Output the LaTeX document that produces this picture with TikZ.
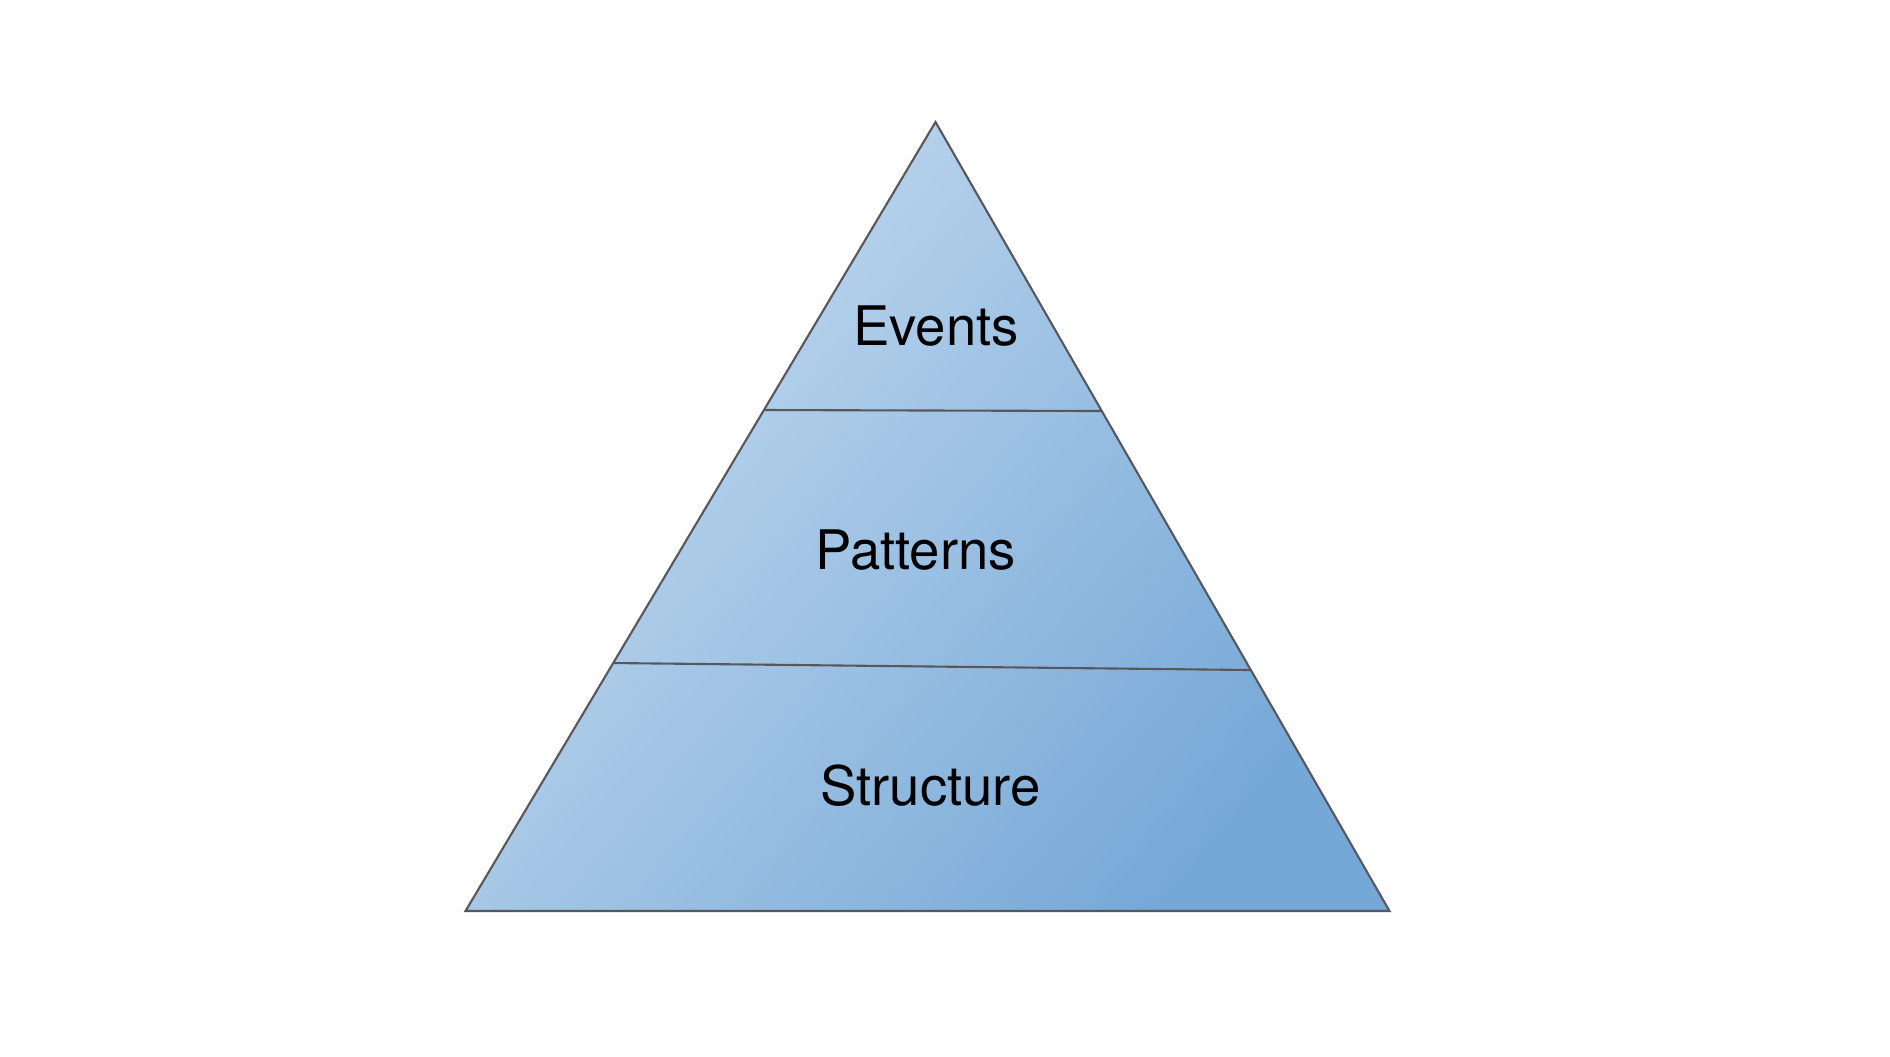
\documentclass[tikz,border=0pt]{standalone}
\usepackage{fontspec}
\setmainfont{TeX Gyre Heros}
\usepackage{tikz}
\definecolor{tierlight}{RGB}{196,219,240}
\definecolor{tiermid}{RGB}{172,203,231}
\definecolor{tierdark}{RGB}{118,168,215}
\definecolor{tierline}{RGB}{88,88,92}
\begin{document}
\begin{tikzpicture}[x=0.01cm,y=-0.01cm]
    \tikzset{tier edge/.style={draw=tierline, line width=0.6pt},
        tier label/.style={anchor=base, inner sep=0pt, font=\fontsize{15.5}{18}\selectfont}}
    \useasboundingbox (0,0) rectangle (1890,1056);
    % outline of the pyramid
    \coordinate (apex) at (935.5,122);
    \coordinate (baseL) at (465.5,911);
    \coordinate (baseR) at (1389.5,911);
    \coordinate (midL) at (764,410);
    \coordinate (midR) at (1101.5,411);
    \coordinate (lowL) at (613,663);
    \coordinate (lowR) at (1250,670);
    \path[tier edge, top color=tierlight, middle color=tiermid, bottom color=tierdark, shading angle=50]
        (apex) -- (baseR) -- (baseL) -- cycle;
    \draw[tier edge] (midL) -- (midR);
    \draw[tier edge] (lowL) -- (lowR);
    \node[tier label] (events) at (936,345) {Events};
    \node[tier label] (patterns) at (915.5,569) {Patterns};
    \node[tier label] (structure) at (930.5,805) {Structure};
\end{tikzpicture}
\end{document}
